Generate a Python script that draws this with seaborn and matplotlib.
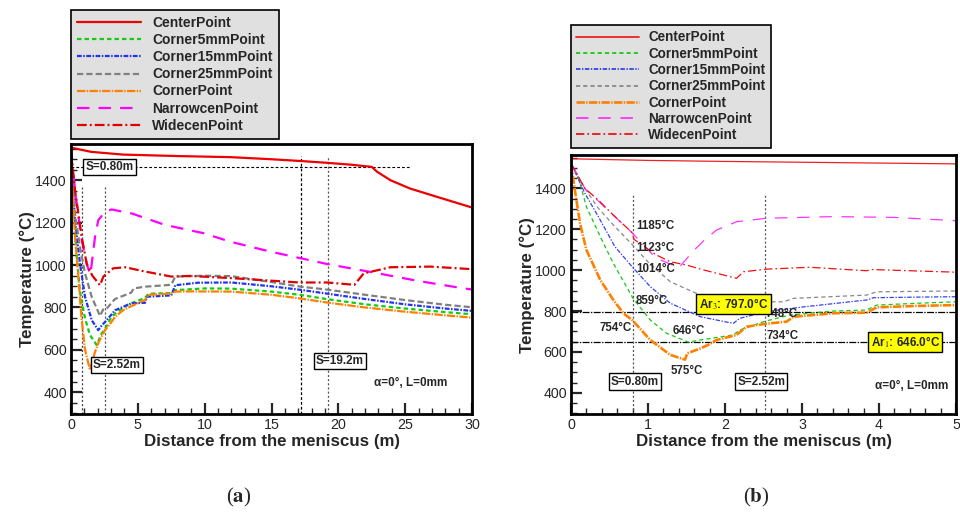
import matplotlib
matplotlib.use("Agg")
import matplotlib.pyplot as plt
import seaborn as sns
from matplotlib.ticker import MultipleLocator

sns.set_style("ticks")
plt.rcParams['font.family'] = ['Liberation Sans', 'DejaVu Sans']
plt.rcParams['mathtext.fontset'] = 'stix'
plt.rcParams['lines.scale_dashes'] = False

# ---------------- data: panel (a), 0-30 m ----------------
series_names = ["CenterPoint", "Corner5mmPoint", "Corner15mmPoint", "Corner25mmPoint",
                "CornerPoint", "NarrowcenPoint", "WidecenPoint"]

a_center_x = [0, 1.5, 3.9, 8, 11.9, 15, 17.1, 19.2, 21, 22.5, 22.9, 23.9, 25.35, 27.35, 30]
a_center_y = [1555, 1535, 1522, 1515, 1510, 1500, 1492, 1483, 1474, 1464, 1441, 1401, 1362, 1323, 1272]

a_c5_x = [0, 0.42, 0.67, 1.05, 1.42, 1.92, 2.3, 2.6, 3.04, 3.9, 4.3, 5.53, 5.8, 7.5, 7.8, 10, 12, 15, 17.1, 19.2, 22, 25, 28, 30]
a_c5_y = [1510, 1048, 875, 749, 670, 623, 678, 705, 757, 800, 815, 845, 865, 868, 882, 890, 889, 875, 860, 839, 815, 795, 778, 768]

a_c15_x = [0, 0.3, 0.67, 1.05, 1.55, 2.04, 2.3, 2.67, 3.3, 4.54, 5.53, 5.7, 7.5, 7.8, 9.5, 12, 15, 17.1, 19.2, 22, 25, 28, 30]
a_c15_y = [1520, 1212, 1008, 850, 740, 693, 715, 740, 787, 820, 822, 851, 857, 905, 917, 918, 900, 884, 865, 840, 815, 795, 784]

a_c25_x = [0, 0.3, 0.67, 1.05, 1.55, 2.17, 2.4, 2.6, 3.29, 4.5, 4.7, 5.5, 7.5, 7.8, 10, 12, 15, 17.1, 19.2, 22, 25, 28, 30]
a_c25_y = [1525, 1244, 1086, 961, 850, 760, 790, 790, 840, 870, 890, 898, 907, 946, 950, 948, 920, 899, 884, 860, 835, 813, 801]

a_corner_x = [0, 0.3, 0.55, 0.8, 1.05, 1.42, 1.8, 2.1, 2.54, 2.9, 3.3, 3.9, 4.29, 5.53, 5.78, 7.5, 7.8, 9, 12, 15, 17.1, 19.2, 22, 25, 28, 30]
a_corner_y = [1500, 1134, 946, 741, 600, 505, 591, 640, 693, 720, 756, 787, 800, 835, 860, 866, 875, 876, 875, 860, 843, 823, 800, 780, 763, 752]

a_narrow_x = [0, 0.4, 0.8, 1.2, 1.45, 1.8, 2.04, 2.54, 3.04, 4.54, 7.03, 9.9, 11.9, 14.9, 19.1, 22.9, 26, 29.3, 30]
a_narrow_y = [1530, 1300, 1120, 1000, 955, 1134, 1212, 1252, 1263, 1244, 1190, 1151, 1111, 1064, 1006, 962, 925, 891, 885]

a_wide_x = [0, 0.3, 0.8, 1.17, 1.6, 2.17, 2.42, 3.16, 4.04, 5.53, 7.5, 8.9, 11.9, 17.1, 19.2, 21.2, 21.9, 23.9, 26.9, 30]
a_wide_y = [1540, 1354, 1134, 1008, 950, 905, 946, 985, 990, 970, 946, 949, 939, 918, 918, 907, 961, 990, 993, 981]

# ---------------- data: panel (b), 0-5 m ----------------
b_center_x = [0, 1, 2, 3, 4, 5]
b_center_y = [1545, 1537, 1532, 1528, 1524, 1520]

b_c5_x = [0, 0.095, 0.2, 0.38, 0.55, 0.81, 1.03, 1.24, 1.46, 1.52, 1.68, 2.11, 2.19, 2.52, 2.84, 3.41, 3.84, 3.97, 4.5, 5]
b_c5_y = [1515, 1457, 1310, 1164, 1033, 859, 756, 691, 658, 648, 658, 683, 707, 750, 780, 800, 805, 829, 838, 845]

b_c15_x = [0, 0.18, 0.355, 0.57, 0.8, 1.03, 1.29, 1.68, 2.06, 2.11, 2.19, 2.54, 2.97, 3.84, 3.93, 4.5, 5]
b_c15_y = [1523, 1376, 1262, 1115, 1014, 919, 838, 772, 743, 740, 764, 797, 818, 854, 865, 868, 870]

b_c25_x = [0, 0.18, 0.355, 0.57, 0.8, 1.0, 1.29, 1.68, 2.1, 2.54, 2.76, 2.89, 3.84, 3.97, 5]
b_c25_y = [1523, 1400, 1303, 1213, 1123, 1040, 943, 878, 850, 845, 845, 862, 878, 894, 898]

b_corner_x = [0, 0.05, 0.117, 0.2, 0.38, 0.55, 0.68, 0.8, 1.03, 1.29, 1.48, 1.51, 1.68, 1.78, 1.89, 2.15, 2.28, 2.52, 2.8, 2.89, 3.41, 3.84, 3.97, 4.5, 5]
b_corner_y = [1523, 1392, 1229, 1099, 952, 854, 789, 754, 658, 585, 562, 593, 617, 634, 658, 683, 723, 737, 748, 772, 789, 792, 818, 825, 829]

b_narrow_x = [0, 0.18, 0.57, 0.8, 1.1, 1.4, 1.6, 1.74, 1.89, 2.15, 2.54, 3.41, 4.2, 5]
b_narrow_y = [1523, 1400, 1262, 1180, 1060, 1012, 1098, 1150, 1196, 1237, 1254, 1262, 1258, 1242]

b_wide_x = [0, 0.18, 0.355, 0.57, 0.79, 0.82, 1.11, 1.29, 1.5, 1.68, 2.15, 2.24, 2.54, 3.1, 3.84, 3.9, 5]
b_wide_y = [1523, 1400, 1343, 1262, 1185, 1150, 1074, 1041, 1025, 1005, 960, 992, 1005, 1014, 997, 1003, 990]

# reference values
a_s_lines = [0.8, 2.52, 17.2, 19.2]
a_s_tops = [1370, 1378, 1515, 1515]
a_liquid_level = 1462
a_liquid_end = 25.4
b_s_lines = [0.8, 2.52]
b_s_top = 1373
ar3 = 797.0
ar1 = 646.0

a_data = [(a_center_x, a_center_y), (a_c5_x, a_c5_y), (a_c15_x, a_c15_y), (a_c25_x, a_c25_y),
          (a_corner_x, a_corner_y), (a_narrow_x, a_narrow_y), (a_wide_x, a_wide_y)]
b_data = [(b_center_x, b_center_y), (b_c5_x, b_c5_y), (b_c15_x, b_c15_y), (b_c25_x, b_c25_y),
          (b_corner_x, b_corner_y), (b_narrow_x, b_narrow_y), (b_wide_x, b_wide_y)]

# ---------------- styles ----------------
a_styles = [
    dict(color="#ee0000", lw=1.6, ls="-"),
    dict(color="#11cc11", lw=1.6, ls=(0, (3.2, 2.2))),
    dict(color="#2233ee", lw=1.6, ls=(0, (3.4, 1.1, 1.1, 1.1))),
    dict(color="#808080", lw=1.6, ls=(0, (4.5, 2.2))),
    dict(color="#ff8000", lw=1.6, ls=(0, (6, 1, 1, 1))),
    dict(color="#ff00ff", lw=1.6, ls=(0, (9, 6.5))),
    dict(color="#e00000", lw=1.6, ls=(0, (7, 2.2, 1.4, 2.2))),
]
b_styles = [
    dict(color="#ee2222", lw=0.9, ls="-"),
    dict(color="#11cc11", lw=0.9, ls=(0, (3, 2.2))),
    dict(color="#3344ee", lw=0.9, ls=(0, (3.2, 1.1, 1.0, 1.1))),
    dict(color="#888888", lw=0.9, ls=(0, (3, 2.2))),
    dict(color="#ff8000", lw=1.9, ls=(0, (6, 1, 1, 1))),
    dict(color="#ff33ff", lw=0.9, ls=(0, (9, 7))),
    dict(color="#ee1111", lw=0.9, ls=(0, (6, 2.2, 1.2, 2.2))),
]

fig = plt.figure(figsize=(9.6, 5.12), dpi=100)
fig.patch.set_facecolor("white")
axA = fig.add_axes([71/960, 98/512, 401/960, 270/512])
axB = fig.add_axes([571/960, 98/512, 385/960, 258.7/512])


def draw(ax, data, styles):
    for name, (xs, ys), st in zip(series_names, data, styles):
        sns.lineplot(x=xs, y=ys, ax=ax, color=st["color"], linewidth=st["lw"],
                     linestyle=st["ls"], label=name, sort=False, estimator=None,
                     legend=False)


draw(axA, a_data, a_styles)
draw(axB, b_data, b_styles)

for ax in (axA, axB):
    for sp in ax.spines.values():
        sp.set_linewidth(2.0)
        sp.set_color("black")
    ax.tick_params(which="major", direction="in", length=8, width=1.6, labelsize=10.3,
                   top=False, right=False, pad=3)
    ax.tick_params(which="minor", direction="in", length=4, width=1.0, top=False, right=False)
    ax.yaxis.set_major_locator(MultipleLocator(200))
    ax.yaxis.set_minor_locator(MultipleLocator(50))
    ax.set_ylabel("Temperature (°C)", fontsize=12.2, fontweight="bold", labelpad=0)
    ax.set_xlabel("Distance from the meniscus (m)", fontsize=12.2, fontweight="bold", labelpad=1)
    ax.set_facecolor("white")

axA.set_xlim(0, 30)
axA.set_ylim(297, 1572)
axA.xaxis.set_major_locator(MultipleLocator(5))
axA.xaxis.set_minor_locator(MultipleLocator(1))

axB.set_xlim(0, 5)
axB.set_ylim(296, 1562)
axB.xaxis.set_major_locator(MultipleLocator(1))
axB.xaxis.set_minor_locator(MultipleLocator(0.2))

# ---- reference lines panel (a)
axA.plot([0, a_liquid_end], [a_liquid_level, a_liquid_level], color="black", lw=0.8,
         ls=(0, (2, 1.5)), zorder=1)
for xv, top, col, ls in zip(a_s_lines, a_s_tops, ["#444444", "#555555", "black", "#555555"],
                            [(0, (1.5, 1.5)), (0, (1.5, 1.5)), (0, (2, 1.5)), (0, (1.5, 1.5))]):
    axA.plot([xv, xv], [297, top], color=col, lw=0.9, ls=ls, zorder=1)

box = dict(boxstyle="square,pad=0.18", fc="white", ec="black", lw=1.0)
axA.text(2.87, a_liquid_level, "S=0.80m", ha="center", va="center", fontsize=8.5,
         fontweight="bold", bbox=box, zorder=5)
axA.text(3.42, 527, "S=2.52m", ha="center", va="center", fontsize=8.5,
         fontweight="bold", bbox=box, zorder=5)
axA.text(20.1, 546, "S=19.2m", ha="center", va="center", fontsize=8.5,
         fontweight="bold", bbox=box, zorder=5)
axA.text(25.4, 445, "α=0°, L=0mm", ha="center", va="center", fontsize=8.5, fontweight="bold")

# ---- reference lines panel (b)
for yv in (ar3, ar1):
    axB.plot([0, 5], [yv, yv], color="black", lw=0.9, ls=(0, (5, 1, 1, 1)), zorder=1)
for xv in b_s_lines:
    axB.plot([xv, xv], [296, b_s_top], color="#555555", lw=0.9, ls=(0, (1.5, 1.5)), zorder=1)

lab = dict(fontsize=8.3, fontweight="bold", va="center")
axB.text(0.85, 1216, "1185°C", ha="left", **lab)
axB.text(0.85, 1107, "1123°C", ha="left", **lab)
axB.text(0.85, 1005, "1014°C", ha="left", **lab)
axB.text(0.84, 849, "859°C", ha="left", **lab)
axB.text(0.578, 715, "754°C", ha="center", **lab)
axB.text(1.53, 702, "646°C", ha="center", **lab)
axB.text(1.50, 508, "575°C", ha="center", **lab)
axB.text(2.74, 785, "748°C", ha="center", **lab)
axB.text(2.75, 678, "734°C", ha="center", **lab)

ybox = dict(boxstyle="square,pad=0.22", fc="#ffff00", ec="black", lw=1.0)
axB.text(2.11, 834, r"Ar$_{3}$: 797.0°C", ha="center", va="center", fontsize=8.5,
         fontweight="bold", bbox=ybox, zorder=6)
axB.text(4.34, 648, r"Ar$_{1}$: 646.0°C", ha="center", va="center", fontsize=8.5,
         fontweight="bold", bbox=ybox, zorder=6)
axB.text(0.83, 455, "S=0.80m", ha="center", va="center", fontsize=8.5,
         fontweight="bold", bbox=box, zorder=5)
axB.text(2.47, 455, "S=2.52m", ha="center", va="center", fontsize=8.5,
         fontweight="bold", bbox=box, zorder=5)
axB.text(4.43, 432, "α=0°, L=0mm", ha="center", va="center", fontsize=8.5, fontweight="bold")

# ---- legends
legA = axA.legend(loc="upper left", bbox_to_anchor=(71/960, 1 - 10/512),
                  bbox_transform=fig.transFigure, borderaxespad=0,
                  prop=dict(weight="bold", size=10), frameon=True, fancybox=False,
                  framealpha=1, facecolor="#e0e0e0", edgecolor="black",
                  handlelength=4.6, handletextpad=0.8, labelspacing=0.22, borderpad=0.45)
legA.get_frame().set_linewidth(1.2)

legB = axB.legend(loc="upper left", bbox_to_anchor=(571/960, 1 - 25/512),
                  bbox_transform=fig.transFigure, borderaxespad=0,
                  prop=dict(weight="bold", size=9.75), frameon=True, fancybox=False,
                  framealpha=1, facecolor="#e0e0e0", edgecolor="black",
                  handlelength=4.6, handletextpad=0.7, labelspacing=0.17, borderpad=0.4)
legB.get_frame().set_linewidth(1.2)
for h in legB.get_lines():
    h.set_linewidth(max(h.get_linewidth(), 1.3))

# ---- panel captions
fig.text(239/960, 1 - 497/512, r"($\mathbf{a}$)", ha="center", va="center",
         fontsize=15, family=["Liberation Serif", "DejaVu Serif"])
fig.text(756/960, 1 - 497/512, r"($\mathbf{b}$)", ha="center", va="center",
         fontsize=15, family=["Liberation Serif", "DejaVu Serif"])

fig.savefig("out.png", dpi=100, facecolor="white")
